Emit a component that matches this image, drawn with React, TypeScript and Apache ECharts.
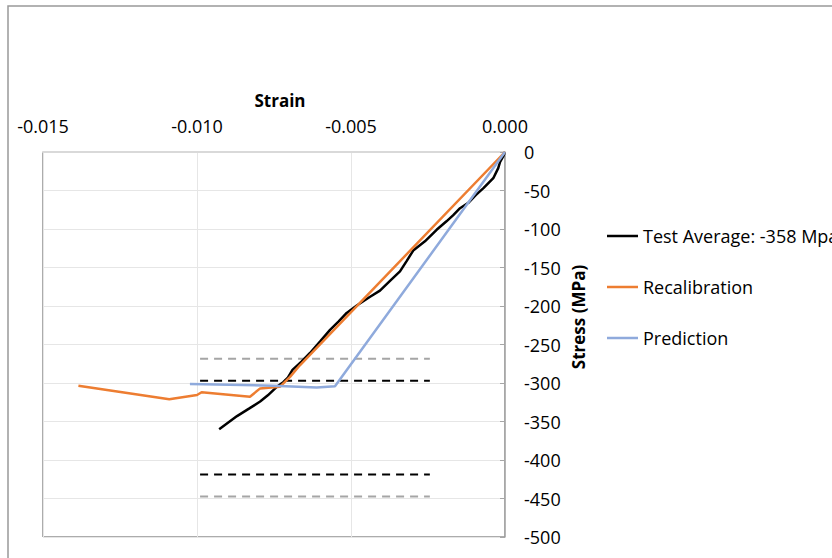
import React, { useEffect, useRef } from "react";
import * as echarts from "echarts";

const xTicks = { min: -0.015, max: 0, interval: 0.005 };
const yTicks = { min: -500, max: 0, interval: 50 };

const testAverage: [number, number][] = [
  [-0.00928, -360], [-0.0087, -343], [-0.0083, -333], [-0.00795, -324], [-0.0077, -316],
  [-0.00741, -305], [-0.0072, -299], [-0.00705, -293], [-0.0069, -283], [-0.0066, -272],
  [-0.00633, -261], [-0.006, -246], [-0.00568, -231], [-0.0054, -220], [-0.00514, -209],
  [-0.0048, -199], [-0.00438, -188], [-0.00406, -180], [-0.0037, -166], [-0.00341, -155],
  [-0.0032, -142], [-0.00298, -128], [-0.0026, -116], [-0.00222, -101], [-0.0019, -90],
  [-0.00168, -82], [-0.00146, -73], [-0.00119, -66], [-0.00095, -56], [-0.0007, -47],
  [-0.00038, -34], [-0.00022, -21], [-0.00016, -13], [-0.00005, -5], [0, 0],
];

const recalibration: [number, number][] = [
  [-0.01385, -303.5], [-0.0109, -321], [-0.01, -315.6], [-0.00985, -312], [-0.00828, -317.8],
  [-0.00795, -307], [-0.00731, -305], [-0.00698, -292], [-0.00666, -277], [0, 0],
];

const prediction: [number, number][] = [
  [-0.01023, -301.3], [-0.00753, -303.5], [-0.00611, -306], [-0.00552, -304.3], [0, 0],
];

const boundStrain = [-0.0099, -0.00244];
const blackBounds = [-297.1, -418.9];
const grayBounds = [-268.5, -447.5];

const legendNames = ["Test Average: -358 Mpa", "Recalibration", "Prediction"];
const colors = { black: "#000000", orange: "#ED7D31", blue: "#8FAADC", gray: "#A5A5A5" };

const FONT = "'Open Sans', sans-serif";
const FS = 18;

export default function App() {
  const ref = useRef<HTMLDivElement>(null);
  useEffect(() => {
    if (!ref.current) return;
    const chart = echarts.init(ref.current, null, { renderer: "svg" });
    const dashed = (name: string, y: number, color: string) => ({
      name,
      type: "line",
      data: boundStrain.map((s) => [s, y]),
      symbol: "none",
      lineStyle: { color, width: 2, type: [8, 6] },
      z: 2,
    });
    chart.setOption({
      animation: false,
      textStyle: { fontFamily: FONT },
      grid: { left: 43, top: 152, right: 327, bottom: 21, show: true, borderColor: "#595959", borderWidth: 1 },
      xAxis: {
        type: "value",
        position: "top",
        min: xTicks.min,
        max: xTicks.max,
        interval: xTicks.interval,
        axisLine: { show: true, onZero: false, lineStyle: { color: "#D9D9D9", width: 2 } },
        axisTick: { show: false },
        splitLine: { show: true, lineStyle: { color: "#E6E6E6", width: 1 } },
        axisLabel: {
          margin: 17,
          color: "#000",
          fontSize: FS,
          fontFamily: FONT,
          formatter: (v: number) => v.toFixed(3),
        },
      },
      yAxis: {
        type: "value",
        position: "right",
        min: yTicks.min,
        max: yTicks.max,
        interval: yTicks.interval,
        axisLine: { show: true, onZero: false, lineStyle: { color: "#A6A6A6", width: 1.5 } },
        axisTick: { show: true, inside: true, length: 5, lineStyle: { color: "#A6A6A6" } },
        splitLine: { show: true, lineStyle: { color: "#E6E6E6", width: 1 } },
        axisLabel: { margin: 19, color: "#000", fontSize: FS, fontFamily: FONT },
      },
      legend: {
        orient: "vertical",
        left: 602,
        top: 222,
        icon: "rect",
        itemWidth: 31,
        itemHeight: 2.5,
        itemGap: 33,
        data: legendNames,
        textStyle: { fontSize: FS, color: "#000", fontFamily: FONT },
      },
      graphic: [
        {
          type: "rect",
          shape: { x: 8, y: 6, width: 900, height: 700 },
          style: { fill: "none", stroke: "#999999", lineWidth: 1.5 },
          silent: true,
        },
        {
          type: "text",
          x: 280,
          y: 100,
          style: { text: "Strain", fontSize: 17, fontWeight: "bold", fontFamily: FONT, fill: "#000", align: "center", verticalAlign: "middle" },
        },
        {
          type: "text",
          x: 578,
          y: 317,
          rotation: Math.PI / 2,
          style: { text: "Stress (MPa)", fontSize: 17, fontWeight: "bold", fontFamily: FONT, fill: "#000", align: "center", verticalAlign: "middle" },
        },
      ],
      series: [
        dashed("upper-17", blackBounds[0], colors.black),
        dashed("lower-17", blackBounds[1], colors.black),
        dashed("upper-25", grayBounds[0], colors.gray),
        dashed("lower-25", grayBounds[1], colors.gray),
        {
          name: legendNames[0],
          type: "line",
          data: testAverage,
          symbol: "none",
          lineStyle: { color: colors.black, width: 2.5 },
          itemStyle: { color: colors.black },
          z: 3,
        },
        {
          name: legendNames[1],
          type: "line",
          data: recalibration,
          symbol: "none",
          lineStyle: { color: colors.orange, width: 2.5 },
          itemStyle: { color: colors.orange },
          z: 4,
        },
        {
          name: legendNames[2],
          type: "line",
          data: prediction,
          symbol: "none",
          lineStyle: { color: colors.blue, width: 2.5 },
          itemStyle: { color: colors.blue },
          z: 5,
        },
      ],
    });
    return () => chart.dispose();
  }, []);
  return (
    <div
      ref={ref}
      style={{ position: "fixed", left: 0, top: 0, width: 832, height: 558, background: "#fff" }}
    />
  );
}
